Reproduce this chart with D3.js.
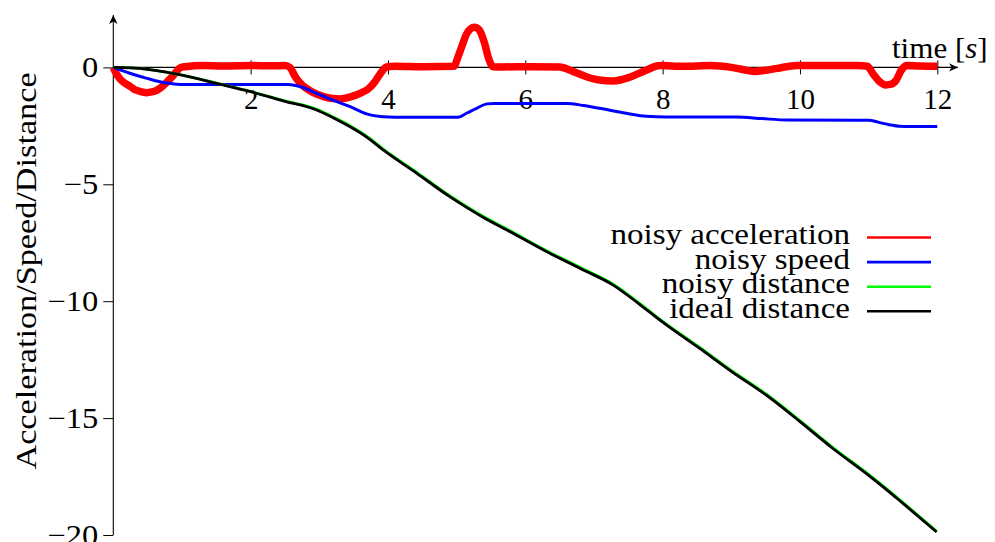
<!DOCTYPE html>
<html>
<head>
<meta charset="utf-8">
<script src="https://d3js.org/d3.v7.min.js"></script>
<style>
  body { margin: 0; background: #fff; }
</style>
</head>
<body>
<script>
// values (time in s)
var accTime = [0, 0.05, 0.1, 0.17, 0.24, 0.3, 0.36, 0.43, 0.49, 0.56, 0.63, 0.7, 0.77, 0.84, 0.92, 0.97, 1.05,
               1.3, 1.6, 2.0, 2.3, 2.5, 2.57, 2.66, 2.75, 2.84, 2.93, 3.02, 3.1, 3.2, 3.3, 3.4, 3.5, 3.6, 3.7, 3.8, 3.88, 3.98, 4.1,
               4.5, 4.96, 5.02, 5.07, 5.14, 5.2, 5.26, 5.33, 5.4, 5.47, 5.53, 5.65,
               6.1, 6.5, 6.7, 6.89, 7.08, 7.28, 7.52, 7.76, 7.96, 8.3,
               8.69, 9.0, 9.18, 9.33, 9.5, 9.67, 9.96, 10.4, 10.84, 10.98, 11.07, 11.15, 11.25, 11.33, 11.4, 11.47, 11.55, 11.75, 12];
var accValue = [0, -0.3, -0.5, -0.68, -0.8, -0.93, -1.0, -1.06, -1.08, -1.05, -0.98, -0.85, -0.66, -0.45, -0.18, -0.02, 0.03,
                0.08, 0.06, 0.08, 0.07, 0.08, 0.0, -0.45, -0.75, -0.95, -1.1, -1.2, -1.28, -1.33, -1.35, -1.3, -1.22, -1.1, -0.95, -0.65, -0.3, 0.02, 0.05,
                0.03, 0.05, 0.45, 0.85, 1.4, 1.65, 1.72, 1.6, 1.1, 0.35, 0.03, 0.02,
                0.03, 0.02, -0.18, -0.4, -0.54, -0.58, -0.42, -0.12, 0.08, 0.05,
                0.08, 0.0, -0.1, -0.17, -0.12, -0.04, 0.08, 0.08, 0.08, 0.05, -0.3, -0.58, -0.75, -0.72, -0.55, -0.15, 0.08, 0.06, 0.05];

var speedTime = [0, 0.24, 0.49, 0.73, 0.92, 1.05, 2.55, 2.75, 2.96, 3.2, 3.45, 3.69, 3.93, 4.1, 5.02, 5.15, 5.29, 5.44, 5.55,
                 6.6, 6.85, 7.08, 7.47, 7.76, 8.05, 9.08, 9.45, 9.81, 11.0, 11.15, 11.3, 11.45, 11.6, 12];
var speedValue = [0, -0.25, -0.47, -0.65, -0.72, -0.73, -0.73, -0.85, -1.11, -1.4, -1.68, -1.99, -2.11, -2.13, -2.13, -1.95, -1.75, -1.56, -1.54,
                  -1.54, -1.63, -1.75, -1.96, -2.09, -2.12, -2.12, -2.19, -2.25, -2.26, -2.35, -2.45, -2.52, -2.53, -2.53];

var distTime = [0, 0.25, 0.5, 0.75, 1.0, 1.5, 2.0, 2.5, 2.96, 3.2, 3.45, 3.7, 3.93, 4.42, 4.9, 5.15, 5.39, 5.78, 6.31, 6.8, 7.28,
                7.65, 8.0, 8.54, 9.0, 9.51, 10.0, 10.48, 11.0, 11.21, 11.5, 11.99];
var idealDistance = [0, -0.02, -0.08, -0.19, -0.33, -0.68, -1.04, -1.45, -1.82, -2.15, -2.54, -3.0, -3.53, -4.53, -5.53, -6.0, -6.42, -7.03, -7.88, -8.6, -9.31,
                     -10.1, -10.9, -12.02, -13.0, -14.02, -15.15, -16.3, -17.45, -17.94, -18.65, -19.87];
var noisyDistance = [0, -0.02, -0.08, -0.19, -0.33, -0.67, -1.03, -1.43, -1.79, -2.12, -2.5, -2.96, -3.49, -4.49, -5.49, -5.96, -6.38, -6.99, -7.84, -8.56, -9.27,
                     -10.06, -10.86, -11.98, -12.96, -13.98, -15.11, -16.26, -17.41, -17.9, -18.61, -19.84];

var xTicks = [2, 4, 6, 8, 10, 12];
var yTicks = [0, -5, -10, -15, -20];
var legendNames = ["noisy acceleration", "noisy speed", "noisy distance", "ideal distance"];
var legendColors = ["#ff0000", "#0000ff", "#00ff00", "#000000"];

var W = 995, H = 542;
var fs = 29;
var serif = "'Liberation Serif', 'Times New Roman', Tinos, 'DejaVu Serif', serif";

var svg = d3.select("body").append("svg")
    .attr("width", W)
    .attr("height", H)
    .attr("font-family", serif);

var x = d3.scaleLinear().domain([0, 12]).range([113.3, 937.3]);
var y = d3.scaleLinear().domain([0, -20]).range([67.4, 535]);

// computer modern runs wider than the serif we have, so stretch texts a bit
function stretch(sel, k) {
    sel.each(function() {
        var len = this.getComputedTextLength();
        d3.select(this).attr("textLength", len * k).attr("lengthAdjust", "spacingAndGlyphs");
    });
}

// arrow heads
var defs = svg.append("defs");
defs.append("marker")
    .attr("id", "arrow")
    .attr("viewBox", "-10 -5 11 10")
    .attr("refX", 0).attr("refY", 0)
    .attr("markerWidth", 11).attr("markerHeight", 10)
    .attr("markerUnits", "userSpaceOnUse")
    .attr("orient", "auto")
  .append("path")
    .attr("d", "M0,0 L-9,-4.2 L-6.5,0 L-9,4.2 Z")
    .attr("fill", "#000");

// y axis
var yAxis = svg.append("g")
    .attr("transform", "translate(" + x(0) + ",0)")
    .call(d3.axisLeft(y).tickValues(yTicks).tickSize(10).tickPadding(5).tickFormat(d3.format("d")));
yAxis.attr("font-family", serif).attr("font-size", fs);
yAxis.select(".domain").remove();
yAxis.selectAll(".tick line").attr("stroke", "#000").attr("stroke-width", 1);
yAxis.selectAll(".tick text").attr("fill", "#000").attr("dy", "0.33em").call(stretch, 1.12);

svg.append("line")
    .attr("x1", x(0)).attr("x2", x(0))
    .attr("y1", y(-20)).attr("y2", 15)
    .attr("stroke", "#000").attr("stroke-width", 1.1)
    .attr("marker-end", "url(#arrow)");

// x axis through zero
var xAxis = svg.append("g")
    .attr("transform", "translate(0," + y(0) + ")")
    .call(d3.axisBottom(x).tickValues(xTicks).tickSize(6).tickFormat(d3.format("d")));
xAxis.attr("font-family", serif).attr("font-size", fs);
xAxis.select(".domain").remove();
xAxis.selectAll(".tick line").attr("y1", -7).attr("y2", 7).attr("stroke", "#000");
xAxis.selectAll(".tick text").attr("fill", "#000").attr("y", 42).attr("dy", 0);

svg.append("line")
    .attr("x1", x(0)).attr("x2", 958)
    .attr("y1", y(0)).attr("y2", y(0))
    .attr("stroke", "#000").attr("stroke-width", 1.1)
    .attr("marker-end", "url(#arrow)");

// axis labels
var tl = svg.append("text")
    .attr("x", 892).attr("y", 58)
    .attr("font-size", fs);
tl.append("tspan").text("time [");
tl.append("tspan").attr("font-style", "italic").text("s");
tl.append("tspan").text("]");
stretch(tl, 1.07);

var yl = svg.append("text")
    .attr("transform", "translate(36,271) rotate(-90)")
    .attr("text-anchor", "middle")
    .attr("font-size", fs)
    .text("Acceleration/Speed/Distance");
stretch(yl, 1.18);

// curves
function lineOf(ts, vs) {
    return d3.line()
        .x(function(d, i) { return x(ts[i]); })
        .y(function(d) { return y(d); })
        .curve(d3.curveMonotoneX)(vs);
}

svg.append("path")
    .attr("d", lineOf(accTime, accValue))
    .attr("fill", "none").attr("stroke", legendColors[0])
    .attr("stroke-width", 7.5).attr("stroke-linejoin", "round");

svg.append("path")
    .attr("d", lineOf(speedTime, speedValue))
    .attr("fill", "none").attr("stroke", legendColors[1]).attr("stroke-width", 3);

svg.append("path")
    .attr("d", lineOf(distTime, noisyDistance))
    .attr("fill", "none").attr("stroke", legendColors[2]).attr("stroke-width", 2.8);

svg.append("path")
    .attr("d", lineOf(distTime, idealDistance))
    .attr("fill", "none").attr("stroke", legendColors[3]).attr("stroke-width", 2.8);

// legend
var lg = svg.append("g").selectAll("g").data(legendNames).enter().append("g")
    .attr("transform", function(d, i) { return "translate(0," + (244 + i * 24.6) + ")"; });
lg.append("text")
    .attr("x", 850).attr("y", 0)
    .attr("text-anchor", "end")
    .attr("font-size", fs)
    .text(function(d) { return d; })
    .call(stretch, 1.14);
lg.append("line")
    .attr("x1", 867).attr("x2", 931)
    .attr("y1", -6.5).attr("y2", -6.5)
    .attr("stroke", function(d, i) { return legendColors[i]; })
    .attr("stroke-width", 2.6);
</script>
</body>
</html>
